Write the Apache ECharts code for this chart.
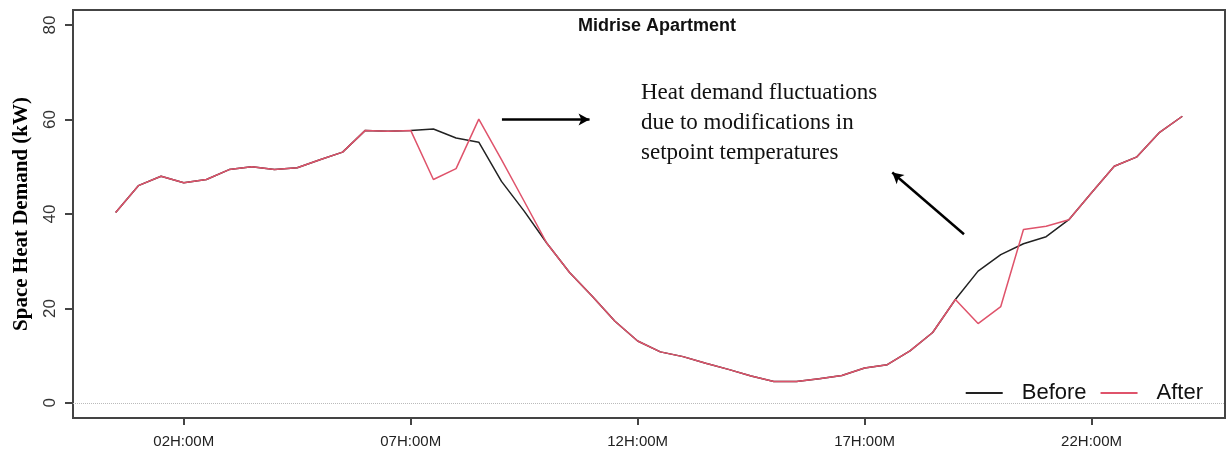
<!DOCTYPE html>
<html>
<head>
<meta charset="utf-8">
<script src="https://cdn.jsdelivr.net/npm/echarts@6/dist/echarts.min.js"></script>
<style>
html,body{margin:0;padding:0;background:#fff;}
#chart{width:1227px;height:452px;}
</style>
</head>
<body>
<div id="chart"></div>
<script>
// Half-hourly time stamps (hours of day)
const hours = [0.5,1,1.5,2,2.5,3,3.5,4,4.5,5,5.5,6,6.5,7,7.5,8,8.5,9,9.5,10,
  10.5,11,11.5,12,12.5,13,13.5,14,14.5,15,15.5,16,16.5,17,17.5,18,18.5,19,19.5,20,
  20.5,21,21.5,22,22.5,23,23.5,24];

// Space heat demand (kW) before setpoint modification
const before = [40.3,46.0,48.0,46.6,47.3,49.4,50.0,49.4,49.8,51.5,53.1,57.7,57.5,57.7,58.0,56.1,55.2,46.9,40.6,33.8,
  27.6,22.6,17.3,13.1,10.8,9.8,8.4,7.1,5.7,4.55,4.55,5.1,5.8,7.4,8.1,11.0,14.9,21.9,27.9,31.4,
  33.7,35.2,38.8,44.5,50.1,52.1,57.3,60.7];

// Space heat demand (kW) after setpoint modification
const after = [40.3,46.0,48.0,46.6,47.3,49.4,50.0,49.4,49.8,51.5,53.1,57.7,57.5,57.7,47.3,49.6,60.1,51.5,42.7,33.8,
  27.6,22.6,17.3,13.1,10.8,9.8,8.4,7.1,5.7,4.55,4.55,5.1,5.8,7.4,8.1,11.0,14.9,21.9,16.8,20.4,
  36.7,37.4,38.8,44.5,50.1,52.1,57.3,60.7];

const xTicks = [2,7,12,17,22];
const xTickLabels = ["02H:00M","07H:00M","12H:00M","17H:00M","22H:00M"];
const yTicks = [0,20,40,60,80];

// Annotation arrows in data coordinates [hour, kW]
const arrow1 = [[9.01,60.0],[10.94,60.0]];
const arrow2 = [[19.19,35.7],[17.61,48.8]];
const noteLines = ["Heat demand fluctuations","due to modifications in","setpoint temperatures"];

const pair = (xs, ys) => xs.map((x,i)=>[x, ys[i]]);

const chart = echarts.init(document.getElementById('chart'), null, {renderer:'canvas'});
chart.setOption({
  backgroundColor:'#ffffff',
  animation:false,
  title:{
    text:'Midrise Apartment',
    left:652, top:12, textAlign:'center',
    textStyle:{fontFamily:'Liberation Sans', fontWeight:'bold', fontSize:18, color:'#111'}
  },
  grid:{left:73, right:2, top:10, bottom:34, show:true, borderColor:'#444', borderWidth:2,
        backgroundColor:'transparent', containLabel:false, outerBoundsMode:'none'},
  legend:{
    right:19, top:377, itemWidth:37, itemHeight:2, itemGap:14, icon:'rect',
    textStyle:{fontFamily:'Liberation Sans', fontSize:22, color:'#111', padding:[0,0,0,14]},
    data:['Before','After']
  },
  xAxis:{
    type:'value', min:-0.44, max:24.94,
    axisLine:{show:false, onZero:false},
    splitLine:{show:false},
    axisTick:{show:true, customValues:xTicks, length:7, lineStyle:{color:'#444', width:2}},
    axisLabel:{
      customValues:xTicks, margin:16,
      fontFamily:'Liberation Sans', fontSize:15, color:'#222',
      formatter:(v)=>xTickLabels[xTicks.indexOf(v)] || ''
    }
  },
  yAxis:{
    type:'value', min:-3.2, max:83.2,
    name:'Space Heat Demand (kW)', nameLocation:'middle', nameGap:41, nameRotate:90,
    nameTextStyle:{fontFamily:'Liberation Serif', fontWeight:'bold', fontSize:21, color:'#000'},
    axisLine:{show:false, onZero:false},
    splitLine:{show:false},
    axisTick:{show:true, customValues:yTicks, length:8, lineStyle:{color:'#444', width:2}},
    axisLabel:{
      customValues:yTicks, rotate:90, margin:14,
      fontFamily:'Liberation Sans', fontSize:17, color:'#333'
    }
  },
  graphic:[{
    type:'text', left:641, top:78,
    style:{text:noteLines.join('\n'), font:'23px "Liberation Serif"', fill:'#111', lineHeight:30}
  }],
  series:[
    {
      name:'Before', type:'line', data:pair(hours,before), symbol:'none',
      lineStyle:{color:'#222', width:1.5}, itemStyle:{color:'#222'}, z:2,
      markLine:{
        silent:true, symbol:'none', label:{show:false},
        lineStyle:{color:'#bbb', type:'dotted', width:1},
        data:[{yAxis:0}]
      }
    },
    {
      name:'After', type:'line', data:pair(hours,after), symbol:'none',
      lineStyle:{color:'#DF536B', width:1.5}, itemStyle:{color:'#DF536B'}, z:3,
      markLine:{
        silent:true, symbol:['none','arrow'], symbolSize:[9,11], label:{show:false},
        lineStyle:{color:'#000', type:'solid', width:2.5},
        data:[
          [{coord:arrow1[0]},{coord:arrow1[1]}],
          [{coord:arrow2[0]},{coord:arrow2[1]}]
        ]
      }
    }
  ]
});
</script>
</body>
</html>
